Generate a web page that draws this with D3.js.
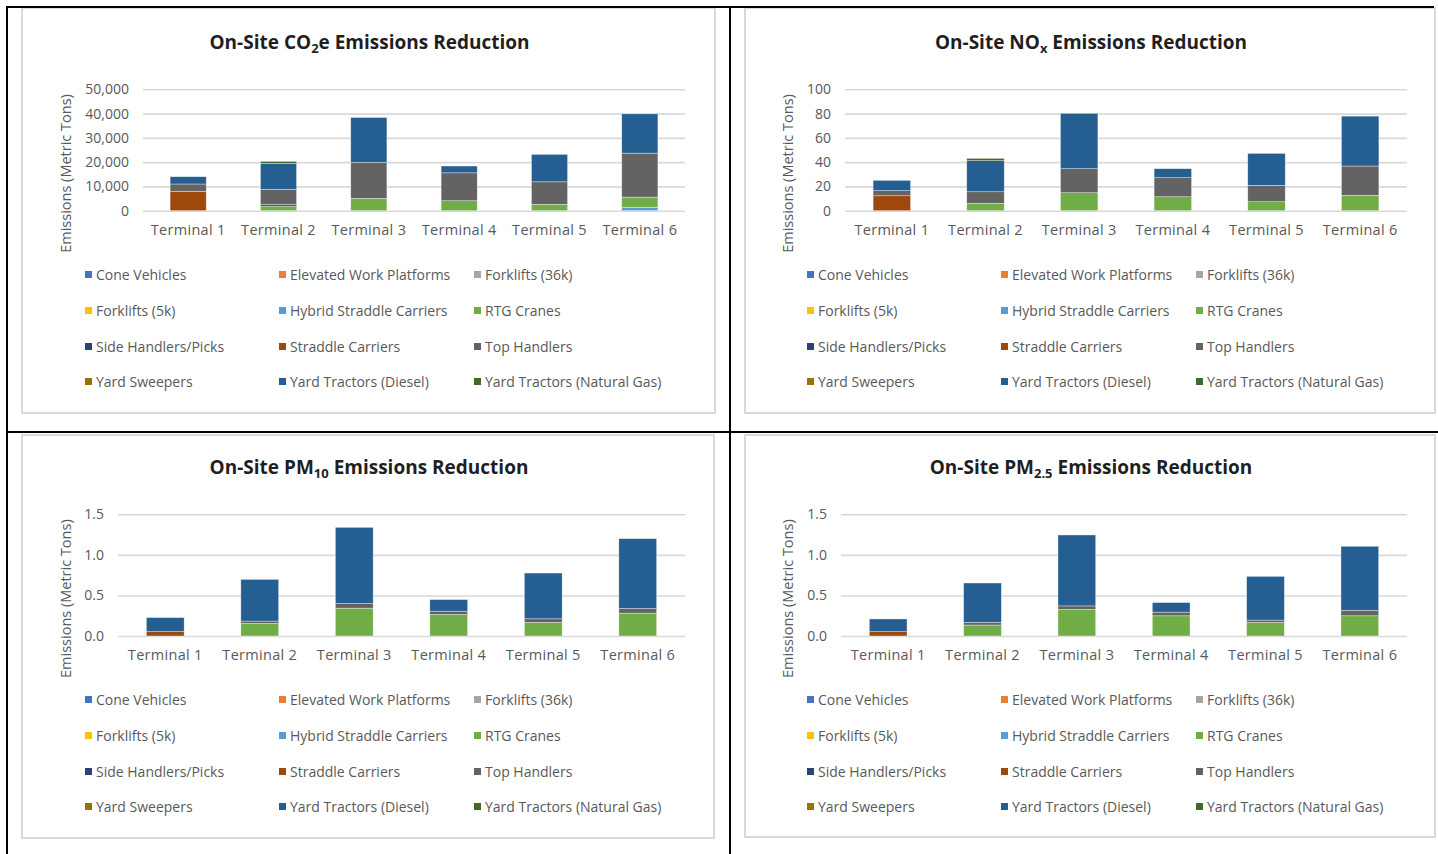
<!DOCTYPE html>
<html>
<head>
<meta charset="utf-8">
<script src="https://cdn.jsdelivr.net/npm/d3@7"></script>
<style>
  html, body { margin: 0; padding: 0; background: #fff; }
  svg { display: block; font-family: "Open Sans", sans-serif; }
</style>
</head>
<body>
<svg id="chart" width="1438" height="854"></svg>
<script>
// Categories and series (stacked bottom to top in this order)
const terminals = ["Terminal 1", "Terminal 2", "Terminal 3", "Terminal 4", "Terminal 5", "Terminal 6"];
const equipment = [
  "Cone Vehicles", "Elevated Work Platforms", "Forklifts (36k)",
  "Forklifts (5k)", "Hybrid Straddle Carriers", "RTG Cranes",
  "Side Handlers/Picks", "Straddle Carriers", "Top Handlers",
  "Yard Sweepers", "Yard Tractors (Diesel)", "Yard Tractors (Natural Gas)"
];
const equipmentColors = [
  "#4472C4", "#ED7D31", "#A5A5A5",
  "#FFC000", "#5B9BD5", "#70AD47",
  "#264478", "#9E480E", "#636363",
  "#997300", "#255E91", "#43682B"
];

// Rows follow `equipment`, columns follow `terminals` (metric tons)
const co2eValues = [
  [0, 0, 0, 0, 0, 0],
  [0, 0, 0, 0, 0, 0],
  [0, 0, 0, 0, 0, 0],
  [0, 0, 0, 0, 0, 0],
  [0, 0, 0, 0, 0, 1400],
  [0, 1900, 5100, 4100, 2600, 4200],
  [0, 600, 0, 0, 0, 0],
  [8000, 0, 0, 0, 0, 0],
  [3000, 6300, 14800, 11500, 9300, 18100],
  [0, 0, 0, 0, 0, 0],
  [3000, 10700, 18500, 2800, 11300, 16200],
  [0, 800, 0, 0, 0, 0]
];
const noxValues = [
  [0, 0, 0, 0, 0, 0],
  [0, 0, 0, 0, 0, 0],
  [0, 0, 0, 0, 0, 0],
  [0, 0, 0, 0, 0, 0],
  [0, 0, 0, 0, 0, 0],
  [0, 6.1, 14.8, 11.5, 7.4, 12.7],
  [0, 0, 0, 0, 0, 0],
  [12.3, 0, 0, 0, 0, 0],
  [4.2, 9.5, 19.8, 15.7, 13.5, 24.1],
  [0, 0, 0, 0, 0, 0],
  [8.5, 25.6, 45.6, 7.4, 26.3, 41.1],
  [0, 1.9, 0, 0, 0, 0]
];
const pm10Values = [
  [0, 0, 0, 0, 0, 0],
  [0, 0, 0, 0, 0, 0],
  [0, 0, 0, 0, 0, 0],
  [0, 0, 0, 0, 0, 0],
  [0, 0, 0, 0, 0, 0],
  [0, 0.155, 0.343, 0.265, 0.167, 0.282],
  [0, 0, 0, 0, 0, 0],
  [0.054, 0, 0, 0, 0, 0],
  [0, 0.029, 0.057, 0.041, 0.045, 0.057],
  [0, 0, 0, 0, 0, 0],
  [0.173, 0.514, 0.939, 0.143, 0.564, 0.861],
  [0, 0, 0, 0, 0, 0]
];
const pm25Values = [
  [0, 0, 0, 0, 0, 0],
  [0, 0, 0, 0, 0, 0],
  [0, 0, 0, 0, 0, 0],
  [0, 0, 0, 0, 0, 0],
  [0, 0, 0, 0, 0, 0],
  [0, 0.135, 0.327, 0.249, 0.167, 0.249],
  [0, 0, 0, 0, 0, 0],
  [0.053, 0, 0, 0, 0, 0],
  [0, 0.032, 0.044, 0.045, 0.029, 0.069],
  [0, 0, 0, 0, 0, 0],
  [0.157, 0.486, 0.874, 0.118, 0.539, 0.788],
  [0, 0, 0, 0, 0, 0]
];

// Axis ticks per pollutant
const co2eTicks = [0, 10000, 20000, 30000, 40000, 50000];
const noxTicks = [0, 20, 40, 60, 80, 100];
const pmTicks = [0, 0.5, 1.0, 1.5];

const svg = d3.select("#chart");
svg.append("rect").attr("width", 1438).attr("height", 854).attr("fill", "#fff");

const panels = [
  { values: co2eValues, ticks: co2eTicks, fmt: d3.format(","),
    title: ["On-Site CO", "2", "e Emissions Reduction"],
    box: [22, 8, 715, 413], plotX: [143, 685], plotY: [210.7, 89.3], dx: 0, dy: 0 },
  { values: noxValues, ticks: noxTicks, fmt: d3.format("d"),
    title: ["On-Site NO", "x", " Emissions Reduction"],
    box: [745, 8, 1435, 413], plotX: [845, 1407], plotY: [210.7, 89.3], dx: 722, dy: 0 },
  { values: pm10Values, ticks: pmTicks, fmt: d3.format(".1f"),
    title: ["On-Site PM", "10", " Emissions Reduction"],
    box: [22, 435, 714, 838], plotX: [118, 685], plotY: [636, 514.3], dx: 0, dy: 425 },
  { values: pm25Values, ticks: pmTicks, fmt: d3.format(".1f"),
    title: ["On-Site PM", "2.5", " Emissions Reduction"],
    box: [745, 435, 1435, 837], plotX: [841, 1407], plotY: [636, 514.3], dx: 722, dy: 425 }
];

panels.forEach(p => {
  const g = svg.append("g");
  const [bx0, by0, bx1, by1] = p.box;

  // chart area frame
  g.append("rect")
    .attr("x", bx0).attr("y", by0)
    .attr("width", bx1 - bx0).attr("height", by1 - by0)
    .attr("fill", "#fff").attr("stroke", "#d9d9d9").attr("stroke-width", 2);

  // title with subscript
  const cx = (bx0 + bx1) / 2 + 1;
  const t = g.append("text")
    .attr("x", cx).attr("y", 49 + p.dy)
    .attr("text-anchor", "middle")
    .attr("font-size", 19).attr("font-weight", "bold").attr("fill", "#1f1f1f");
  t.append("tspan").text(p.title[0]);
  t.append("tspan").attr("font-size", 13).attr("dy", 4).text(p.title[1]);
  t.append("tspan").attr("dy", -4).text(p.title[2]);

  // scales
  const x = d3.scaleBand().domain(terminals).range(p.plotX)
    .paddingInner(0.6).paddingOuter(0.3);
  const y = d3.scaleLinear().domain([0, d3.max(p.ticks)]).range(p.plotY);

  // gridlines + y tick labels
  const yAxis = g.append("g")
    .attr("transform", `translate(${p.plotX[0]},0)`)
    .call(d3.axisLeft(y).tickValues(p.ticks).tickFormat(p.fmt)
      .tickSize(-(p.plotX[1] - p.plotX[0])).tickPadding(14));
  yAxis.select(".domain").remove();
  yAxis.selectAll("line").attr("stroke", "#d9d9d9").attr("stroke-width", 1.6);
  yAxis.selectAll("text").attr("fill", "#595959").attr("font-size", 14)
    .attr("font-family", "'Open Sans', sans-serif");

  // stacked bars
  const rows = terminals.map((name, j) => {
    const r = { name };
    equipment.forEach((e, i) => { r[e] = p.values[i][j]; });
    return r;
  });
  const stack = d3.stack().keys(equipment)(rows);
  stack.forEach((layer, i) => {
    g.append("g").attr("fill", equipmentColors[i])
      .selectAll("rect")
      .data(layer.filter(d => d[1] > d[0]))
      .join("rect")
      .attr("x", d => x(d.data.name))
      .attr("width", x.bandwidth())
      .attr("y", d => y(d[1]))
      .attr("height", d => y(d[0]) - y(d[1]))
      .attr("stroke", "#ffffff").attr("stroke-width", 0.6).attr("stroke-opacity", 0.6);
  });

  // x labels
  const xAxis = g.append("g")
    .attr("transform", `translate(0,${p.plotY[0]})`)
    .call(d3.axisBottom(x).tickSize(0).tickPadding(14));
  xAxis.select(".domain").remove();
  xAxis.selectAll("text").attr("fill", "#595959").attr("font-size", 14.5)
    .attr("letter-spacing", 0.3)
    .attr("font-family", "'Open Sans', sans-serif");

  // y axis title
  const ay = (p.plotY[0] + p.plotY[1]) / 2 + 23.5;
  const axx = 71 + p.dx;
  g.append("text")
    .attr("transform", `translate(${axx},${ay}) rotate(-90)`)
    .attr("text-anchor", "middle")
    .attr("font-size", 14.5).attr("fill", "#595959")
    .text("Emissions (Metric Tons)");

  // legend (3 columns x 4 rows)
  const colX = [85 + p.dx, 279 + p.dx, 474 + p.dx];
  const rowY = [275, 311, 347, 382].map(v => v + p.dy);
  const leg = g.append("g").selectAll("g").data(equipment).join("g")
    .attr("transform", (d, i) => `translate(${colX[i % 3]},${rowY[Math.floor(i / 3)]})`);
  leg.append("rect").attr("x", 0).attr("y", -4).attr("width", 7).attr("height", 7)
    .attr("fill", (d, i) => equipmentColors[i]);
  leg.append("text").attr("x", 11).attr("y", 5)
    .attr("font-size", 14).attr("fill", "#595959").text(d => d);
});

// table rules around the four charts
const rules = [
  [6, 7, 1434, 7],
  [7, 6, 7, 854],
  [730, 6, 730, 854],
  [6, 432, 1438, 432]
];
svg.append("g").selectAll("line").data(rules).join("line")
  .attr("x1", d => d[0]).attr("y1", d => d[1])
  .attr("x2", d => d[2]).attr("y2", d => d[3])
  .attr("stroke", "#000").attr("stroke-width", 2);
</script>
</body>
</html>
